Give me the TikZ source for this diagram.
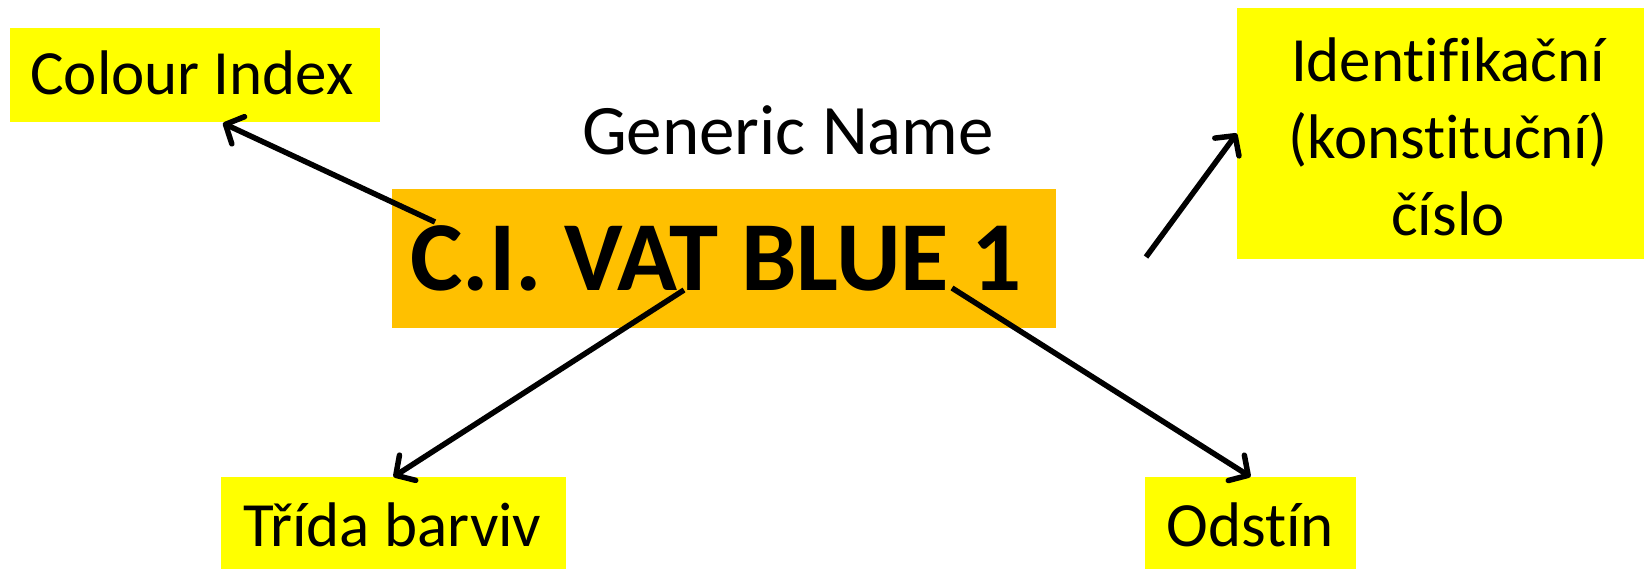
\documentclass[tikz,border=0pt]{standalone}
\usepackage{fontspec}
\setmainfont[Ligatures=NoCommon]{Carlito}
\usetikzlibrary{arrows.meta,calc}
\definecolor{ylw}{HTML}{FFFF00}
\definecolor{org}{HTML}{FFC000}
\begin{document}
\begin{tikzpicture}[x=1pt,y=-1pt,
  ybox/.style={fill=ylw, draw=none, inner sep=0pt},
  obox/.style={fill=org, draw=none, inner sep=0pt},
  lbl/.style={inner sep=0pt, font=\fontsize{63}{77}\selectfont},
  arr/.style={line width=5.5pt, -{Straight Barb[length=14pt,width=30pt,round]}}]
\useasboundingbox (0,0) rectangle (1644,570);
% boxes
\node[ybox, minimum width=370pt, minimum height=94pt] (ci) at (195,75) {};
\node[obox, minimum width=664pt, minimum height=139pt] (civ) at (724,258.5) {};
\node[ybox, minimum width=407pt, minimum height=251pt] (idn) at (1440.5,133.5) {};
\node[ybox, minimum width=345pt, minimum height=92pt] (tri) at (393.5,523) {};
\node[ybox, minimum width=211pt, minimum height=92pt] (ods) at (1250.5,523) {};
% texts
\node[lbl, anchor=base] (cit) at (192,94) {Colour Index};
\node[inner sep=0pt, anchor=base, font=\fontsize{71}{85}\selectfont] (gen) at (788,154) {Generic Name};
\node[inner sep=0pt, anchor=base, font=\bfseries\fontsize{99}{110}\selectfont] (civt) at (716,290) {C.I. VAT BLUE 1};
\node[lbl, align=center] (idnt) at (1448,137) {Identifikační\\(konstituční)\\číslo};
\node[lbl, anchor=base] (trit) at (392.5,546) {Třída barviv};
\node[lbl, anchor=base] (odst) at (1250,546) {Odstín};
% arrow start points
\coordinate (s1) at (435,222);
\coordinate (s2) at (684,290);
\coordinate (s3) at (952,288);
\coordinate (s4) at (1146,257);
\draw[arr] (s1) -- ($(ci.south)+(28,1)$);
\draw[arr] (s2) -- (tri.north);
\draw[arr] (s3) -- (ods.north);
\draw[arr] (s4) -- (idn.west);
\end{tikzpicture}
\end{document}
